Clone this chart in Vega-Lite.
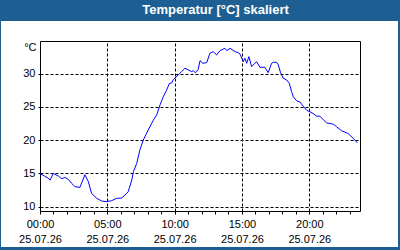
{
  "$schema": "https://vega.github.io/schema/vega-lite/v6.json",
  "width": 397,
  "height": 226,
  "autosize": {"type": "none"},
  "padding": {"left": 1, "right": 2, "top": 21, "bottom": 3},
  "background": "#1d5f93",
  "title": {
    "text": "Temperatur [°C] skaliert",
    "color": "#ffffff",
    "font": "Liberation Sans",
    "fontSize": 13,
    "fontWeight": "bold",
    "anchor": "middle",
    "baseline": "alphabetic",
    "offset": 6,
    "dx": 16,
    "dy": 12
  },
  "config": {
    "view": {"fill": "#ffffff", "stroke": null},
    "axis": {
      "labelFont": "Liberation Sans",
      "labelFontSize": 11,
      "labelColor": "#000000",
      "titleFont": "Liberation Sans",
      "domainColor": "#000000",
      "tickColor": "#000000",
      "gridColor": "#000000",
      "gridOpacity": 1,
      "gridDash": [3, 2]
    }
  },
  "data": {
    "values": [
      {"t": "2026-07-25T00:00:00Z", "v": 15.0},
      {"t": "2026-07-25T00:20:00Z", "v": 14.6},
      {"t": "2026-07-25T00:36:00Z", "v": 14.3},
      {"t": "2026-07-25T00:45:00Z", "v": 14.0},
      {"t": "2026-07-25T00:59:00Z", "v": 15.0},
      {"t": "2026-07-25T01:22:00Z", "v": 14.6},
      {"t": "2026-07-25T01:37:00Z", "v": 14.2},
      {"t": "2026-07-25T01:51:00Z", "v": 14.4},
      {"t": "2026-07-25T02:06:00Z", "v": 14.1},
      {"t": "2026-07-25T02:21:00Z", "v": 13.5},
      {"t": "2026-07-25T02:36:00Z", "v": 13.0},
      {"t": "2026-07-25T02:58:00Z", "v": 12.9},
      {"t": "2026-07-25T03:20:00Z", "v": 14.8},
      {"t": "2026-07-25T03:35:00Z", "v": 13.8},
      {"t": "2026-07-25T03:50:00Z", "v": 12.0},
      {"t": "2026-07-25T04:13:00Z", "v": 11.25},
      {"t": "2026-07-25T04:35:00Z", "v": 10.85},
      {"t": "2026-07-25T04:57:00Z", "v": 10.75},
      {"t": "2026-07-25T05:19:00Z", "v": 10.9},
      {"t": "2026-07-25T05:42:00Z", "v": 11.25},
      {"t": "2026-07-25T06:04:00Z", "v": 11.3},
      {"t": "2026-07-25T06:19:00Z", "v": 11.75},
      {"t": "2026-07-25T06:33:00Z", "v": 12.25},
      {"t": "2026-07-25T06:49:00Z", "v": 14.0},
      {"t": "2026-07-25T06:56:00Z", "v": 15.25},
      {"t": "2026-07-25T07:11:00Z", "v": 16.5},
      {"t": "2026-07-25T07:25:00Z", "v": 18.5},
      {"t": "2026-07-25T07:40:00Z", "v": 20.0},
      {"t": "2026-07-25T08:02:00Z", "v": 21.5},
      {"t": "2026-07-25T08:25:00Z", "v": 23.0},
      {"t": "2026-07-25T08:40:00Z", "v": 23.8},
      {"t": "2026-07-25T08:55:00Z", "v": 25.3},
      {"t": "2026-07-25T09:09:00Z", "v": 26.5},
      {"t": "2026-07-25T09:24:00Z", "v": 27.5},
      {"t": "2026-07-25T09:36:00Z", "v": 28.5},
      {"t": "2026-07-25T09:47:00Z", "v": 28.6},
      {"t": "2026-07-25T09:54:00Z", "v": 29.1},
      {"t": "2026-07-25T10:16:00Z", "v": 29.8},
      {"t": "2026-07-25T10:31:00Z", "v": 30.3},
      {"t": "2026-07-25T10:46:00Z", "v": 30.8},
      {"t": "2026-07-25T11:01:00Z", "v": 30.55},
      {"t": "2026-07-25T11:16:00Z", "v": 30.3},
      {"t": "2026-07-25T11:23:00Z", "v": 30.45},
      {"t": "2026-07-25T11:31:00Z", "v": 30.15},
      {"t": "2026-07-25T11:38:00Z", "v": 30.3},
      {"t": "2026-07-25T11:45:00Z", "v": 30.65},
      {"t": "2026-07-25T11:53:00Z", "v": 31.95},
      {"t": "2026-07-25T12:05:00Z", "v": 31.55},
      {"t": "2026-07-25T12:23:00Z", "v": 31.65},
      {"t": "2026-07-25T12:37:00Z", "v": 33.05},
      {"t": "2026-07-25T12:52:00Z", "v": 33.3},
      {"t": "2026-07-25T13:07:00Z", "v": 32.8},
      {"t": "2026-07-25T13:22:00Z", "v": 33.45},
      {"t": "2026-07-25T13:44:00Z", "v": 33.8},
      {"t": "2026-07-25T13:52:00Z", "v": 33.45},
      {"t": "2026-07-25T14:07:00Z", "v": 33.8},
      {"t": "2026-07-25T14:29:00Z", "v": 33.3},
      {"t": "2026-07-25T14:43:00Z", "v": 33.15},
      {"t": "2026-07-25T14:51:00Z", "v": 32.95},
      {"t": "2026-07-25T15:06:00Z", "v": 31.8},
      {"t": "2026-07-25T15:13:00Z", "v": 32.3},
      {"t": "2026-07-25T15:21:00Z", "v": 31.55},
      {"t": "2026-07-25T15:31:00Z", "v": 32.55},
      {"t": "2026-07-25T15:43:00Z", "v": 31.05},
      {"t": "2026-07-25T16:05:00Z", "v": 31.8},
      {"t": "2026-07-25T16:20:00Z", "v": 30.95},
      {"t": "2026-07-25T16:42:00Z", "v": 30.95},
      {"t": "2026-07-25T16:57:00Z", "v": 30.15},
      {"t": "2026-07-25T17:12:00Z", "v": 31.55},
      {"t": "2026-07-25T17:19:00Z", "v": 31.7},
      {"t": "2026-07-25T17:34:00Z", "v": 31.7},
      {"t": "2026-07-25T17:42:00Z", "v": 31.3},
      {"t": "2026-07-25T17:52:00Z", "v": 30.15},
      {"t": "2026-07-25T18:04:00Z", "v": 29.3},
      {"t": "2026-07-25T18:19:00Z", "v": 29.05},
      {"t": "2026-07-25T18:31:00Z", "v": 28.55},
      {"t": "2026-07-25T18:41:00Z", "v": 27.3},
      {"t": "2026-07-25T18:49:00Z", "v": 26.5},
      {"t": "2026-07-25T19:04:00Z", "v": 25.9},
      {"t": "2026-07-25T19:18:00Z", "v": 25.75},
      {"t": "2026-07-25T19:33:00Z", "v": 25.1},
      {"t": "2026-07-25T19:48:00Z", "v": 24.5},
      {"t": "2026-07-25T20:03:00Z", "v": 24.25},
      {"t": "2026-07-25T20:17:00Z", "v": 24.0},
      {"t": "2026-07-25T20:33:00Z", "v": 23.6},
      {"t": "2026-07-25T20:47:00Z", "v": 23.6},
      {"t": "2026-07-25T21:02:00Z", "v": 23.1},
      {"t": "2026-07-25T21:17:00Z", "v": 22.6},
      {"t": "2026-07-25T21:32:00Z", "v": 22.5},
      {"t": "2026-07-25T21:47:00Z", "v": 22.4},
      {"t": "2026-07-25T22:02:00Z", "v": 22.0},
      {"t": "2026-07-25T22:24:00Z", "v": 21.4},
      {"t": "2026-07-25T22:39:00Z", "v": 21.2},
      {"t": "2026-07-25T22:53:00Z", "v": 21.0},
      {"t": "2026-07-25T23:16:00Z", "v": 20.27},
      {"t": "2026-07-25T23:34:00Z", "v": 19.6}
    ]
  },
  "resolve": {"axis": {"x": "independent", "y": "independent"}},
  "layer": [
    {
      "mark": {"type": "line", "color": "#0000ff", "strokeWidth": 1, "strokeOpacity": 0},
      "encoding": {
        "x": {
          "field": "t",
          "type": "temporal",
          "scale": {
            "type": "utc",
            "nice": false,
            "domain": [
              {"year": 2026, "month": 7, "date": 25, "hours": 0, "minutes": 0, "utc": true},
              {"year": 2026, "month": 7, "date": 25, "hours": 23, "minutes": 46, "utc": true}
            ],
            "range": [39, 359]
          },
          "axis": {
            "orient": "top",
            "offset": -20,
            "title": null,
            "labels": false,
            "ticks": false,
            "grid": true,
            "values": [
              {"year": 2026, "month": 7, "date": 25, "hours": 0, "utc": true},
              {"year": 2026, "month": 7, "date": 25, "hours": 5, "utc": true},
              {"year": 2026, "month": 7, "date": 25, "hours": 10, "utc": true},
              {"year": 2026, "month": 7, "date": 25, "hours": 15, "utc": true},
              {"year": 2026, "month": 7, "date": 25, "hours": 20, "utc": true}
            ]
          }
        },
        "y": {
          "field": "v",
          "type": "quantitative",
          "scale": {"domain": [9.35, 34.9], "nice": false, "zero": false, "range": [190, 20]},
          "axis": {"orient": "right", "offset": -38, "labels": false, "ticks": false, "grid": false, "title": null}
        }
      }
    },
    {
      "mark": {"type": "line", "color": "#0000ff", "strokeWidth": 1},
      "encoding": {
        "x": {
          "field": "t",
          "type": "temporal",
          "axis": {
            "orient": "bottom",
            "offset": -36,
            "title": null,
            "tickCount": 24,
            "tickSize": 3,
            "labelPadding": 4,
            "labelLineHeight": 15,
            "labelFlush": false,
            "labelOverlap": false,
            "labelExpr": "utchours(datum.value) % 5 === 0 ? [utcFormat(datum.value, '%H:%M'), utcFormat(datum.value, '%d.%m.%y')] : ''",
            "grid": false
          }
        },
        "y": {
          "field": "v",
          "type": "quantitative",
          "axis": {
            "orient": "left",
            "offset": -39,
            "values": [10, 15, 20, 25, 30],
            "tickSize": 2,
            "labelPadding": 3,
            "grid": true,
            "title": "°C",
            "titleAngle": 0,
            "titleAlign": "right",
            "titleBaseline": "alphabetic",
            "titleFontSize": 11,
            "titleFontWeight": "normal",
            "titleColor": "#000000",
            "titleX": -4,
            "titleY": 29
          }
        }
      }
    }
  ]
}
